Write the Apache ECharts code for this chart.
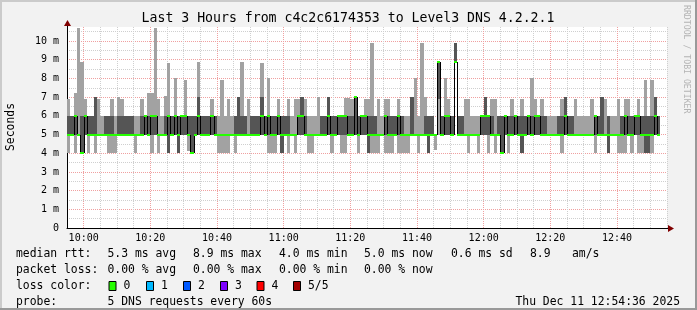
<!DOCTYPE html>
<html><head><meta charset="utf-8">
<script src="https://cdn.jsdelivr.net/npm/echarts@6/dist/echarts.min.js"></script>
<style>html,body{margin:0;padding:0;background:#f2f2f2}#c{width:697px;height:310px}</style>
</head><body><div id="c"></div>
<script>
// time axis in minutes since midnight; column i covers [firstMinute+i, firstMinute+i+1]
const firstMinute = 595;       // 09:55
const axisStart = 595, axisEnd = 775;
const xLabelMinutes = [600, 620, 640, 660, 680, 700, 720, 740, 760];
const yTickValues = [0,1,2,3,4,5,6,7,8,9,10];

// five DNS pings per minute, sorted: min, 2nd, median, 4th, max (ms)
const pingMin = [
4,5,4,5,4,5,4,5,4,5,
5,5,4,4,4,5,5,5,5,5,
4,5,5,5,5,4,5,4,5,5,
4,5,5,4,5,5,4.1,4,5,5,
5,5,5,5,5,4,4,4,4,5,
4,5,5,5,5,5,5,5,5,5,
4,4,4,5,4,5,4,5,4,5,
5,5,4,4,5,5,5,5,5,4,
5,5,4,4,5,5,5,4,5,5,
4,4,4,4,5,4,4,4,5,4,
4,4,4,5,5,4,5,5,4,5,
4.15,5,5,5,5,5,8.9,5,5,5,
4,5,5,4,5,5,4,5,4,5,
4,5,4,5,5,5,4,5,5,5,
5,5,5,5,5,5,5,5,4,5,
5,5,5,5,5,5,5,5,4,5,
5,5,4,5,5,4,4,4,5,4,
5,4,4,4,4,4,5,5];
const pingQ1 = [
5,5,5,5,4,5,5,5,5,5,
5,5,5,5,5,5,5,5,5,5,
5,5,5,5,5,5,5,5,5,5,
4,5,5,4,5,5,5,4,5,5,
5,5,5,5,5,5,5,5,5,5,
5,5,5,5,5,5,5,5,5,5,
5,5,5,5,4,5,5,5,5,5,
5,5,5,5,5,5,5,5,5,5,
5,5,5,5,5,5,5,5,5,5,
4,5,5,5,5,5,5,5,5,5,
5,5,5,5,5,5,5,5,4,5,
5,6.9,5,5,5,5,8.9,5,5,5,
5,5,5,5,5,5,5,5,5,5,
4,5,5,5,5,5,4,5,5,5,
5,5,5,5,5,5,5,5,5,5,
5,5,5,5,5,5,5,5,5,5,
5,5,4,5,5,5,5,5,5,5,
5,5,5,4,4,5,5,5];
const pingMed = [
5,5,6,5,4,6,5,5,5,5,
5,5,5,5,5,5,5,5,5,5,
5,5,5,6,5,6,6,5,5,5,
6,5,6,5,6,6,5,4,5,6,
5,5,5,6,5,5,5,5,5,5,
5,5,5,5,5,5,5,5,6,5,
6,5,5,6,5,5,5,5,5,6,
6,5,5,5,5,5,5,5,6,5,
5,6,6,6,5,5,7,5,6,6,
5,5,5,5,5,6,5,5,5,6,
5,5,5,5,5,5,5,5,5,5,
5,8.9,5,6,6,5,8.9,5,5,5,
5,5,5,5,6,6,6,5,5,5,
4,6,5,5,6,5,5,5,6,5,
6,6,5,5,5,5,5,5,5,6,
5,5,5,5,5,5,5,5,6,5,
5,5,5,5,5,5,5,6,5,5,
6,6,5,5,5,5,6,5];
const pingQ3 = [
6,6,6,5,6,6,6,6,7,5,
5,6,6,6,5,6,6,6,6,6,
5,5,6,6,6,6,6,5,5,6,
6,6,6,6,6,6,6,6,6,7,
6,6,6,6,6,5,5,5,5,5,
6,7,6,6,5,6,6,6,7,6,
6,6,6,6,6,6,6,5,5,6,
7,6,5,5,5,5,6,6,7,6,
6,6,6,6,6,6,7,6,6,6,
6,6,6,5,5,6,6,6,6,6,
6,5,5,7,5,5,5,6,6,6,
5,8.9,6,6,6,6,9.9,6,6,5,
5,5,5,5,6,7,6,6,5,6,
6,6,6,6,6,6,6,6,6,6,
6,6,6,6,5,5,5,6,6,7,
6,6,5,5,5,5,5,5,6,6,
7,5,6,5,5,5,6,6,6,6,
6,6,6,6,6,6,7,6];
const pingMax = [
6.9,6,7.2,10.7,8.9,6.9,6,6,7,6.9,
6,6,6,6.9,6,7,6.9,6,6,6,
6,6,6.9,6,7.2,7.2,10.7,6.9,6,7.05,
8.85,6,8,6,6,7.9,6,6,6,8.9,
6,6,6,6.9,6,6,7.9,6,6.9,6,
6,7,8.9,6,6.9,6,6,6,8.85,6,
8,6,6,6.9,6,6,6.9,6,6.9,6.9,
7,6.9,6,6,6,7,6,6,7,6,
6,6,6,6.95,6.95,6.9,7,6,6,6.9,
6.9,9.9,6,6.9,6,6.9,6.9,6,6,6.9,
6,6,6,7,8,6,9.9,7,6,6,
5,8.9,6,8,6.9,6,9.9,6,6,6.9,
6.9,6,6,6,6,7,6,6.9,6.9,6,
6,6,6,6.9,6,6,6.9,6,6,8,
6.9,6,6.9,6,6,6,6,6,6.9,7,
6,6,6.9,6,6,6,6,6.9,6,6,
7,6.9,6,6,6,6.9,6,6.9,6.9,6,
6,6.9,6,7.9,6,7.9,7,6];

const titleText = 'Last 3 Hours from c4c2c6174353 to Level3 DNS 4.2.2.1';
const rttRow = [['median rtt:',16],['5.3 ms avg',107.5],['8.9 ms max',193],['4.0 ms min',279],['5.0 ms now',364],['0.6 ms sd',451],['8.9',530],['am/s',572]];
const lossRow = [['packet loss:',16],['0.00 % avg',107.5],['0.00 % max',193],['0.00 % min',279],['0.00 % now',364]];
const lossColors = [['0','#26ff00'],['1','#00b8ff'],['2','#0059ff'],['3','#7e00ff'],['4','#ff0000'],['5/5','#a10000']];
const lossBoxX = [108.5,146,183,220,256.5,293];
const probeText = '5 DNS requests every 60s';
const dateText = 'Thu Dec 11 12:54:36 2025';

const MONO = "'DejaVu Sans Mono', monospace";
const LIGHT = '#a2a2a2', DARK = '#555555', MEDGREEN = '#26ff00';

const smokeData = pingMed.map((m, i) => [firstMinute + i, pingMin[i], pingQ1[i], m, pingQ3[i], pingMax[i]]);
const medianData = pingMed.map((m, i) => [firstMinute + i, m, i === 0 ? m : pingMed[i - 1]]);

function hhmm(v) {
  const h = Math.floor(v / 60), m = v % 60;
  return (h < 10 ? '0' : '') + h + ':' + (m < 10 ? '0' : '') + m;
}

const chart = echarts.init(document.getElementById('c'), null, {renderer: 'canvas'});

const gfx = [];
// frame shading
gfx.push({type:'rect', shape:{x:0,y:0,width:697,height:2}, style:{fill:'#cbcbcb'}, silent:true});
gfx.push({type:'rect', shape:{x:0,y:0,width:2,height:310}, style:{fill:'#cbcbcb'}, silent:true});
gfx.push({type:'rect', shape:{x:0,y:308,width:697,height:2}, style:{fill:'#999999'}, silent:true});
gfx.push({type:'rect', shape:{x:695,y:0,width:2,height:310}, style:{fill:'#999999'}, silent:true});
gfx.push({type:'text', x:348, y:19, style:{text:titleText, font:'13.2px ' + MONO, fill:'#000', align:'center', verticalAlign:'middle'}});
gfx.push({type:'text', x:11, y:127, rotation:Math.PI/2, style:{text:'Seconds', font:'11.4px ' + MONO, fill:'#000', align:'center', verticalAlign:'middle'}});
gfx.push({type:'text', x:686, y:5, rotation:-Math.PI/2, style:{text:'RRDTOOL / TOBI OETIKER', font:'8.2px ' + MONO, fill:'#b4b4b4', align:'left', verticalAlign:'middle'}});
const LF = '11.4px ' + MONO;
rttRow.forEach(([t, x]) => gfx.push({type:'text', x, y:254, style:{text:t, font:LF, fill:'#000', align:'left', verticalAlign:'middle'}}));
lossRow.forEach(([t, x]) => gfx.push({type:'text', x, y:270, style:{text:t, font:LF, fill:'#000', align:'left', verticalAlign:'middle'}}));
gfx.push({type:'text', x:16, y:286, style:{text:'loss color:', font:LF, fill:'#000', align:'left', verticalAlign:'middle'}});
lossColors.forEach(([t, c], k) => {
  gfx.push({type:'rect', shape:{x:lossBoxX[k] + 0.5, y:281.5, width:7, height:9}, style:{fill:c, stroke:'#000', lineWidth:1}});
  gfx.push({type:'text', x:lossBoxX[k] + 15, y:286, style:{text:t, font:LF, fill:'#000', align:'left', verticalAlign:'middle'}});
});
gfx.push({type:'text', x:16, y:302, style:{text:'probe:', font:LF, fill:'#000', align:'left', verticalAlign:'middle'}});
gfx.push({type:'text', x:107.5, y:302, style:{text:probeText, font:LF, fill:'#000', align:'left', verticalAlign:'middle'}});
gfx.push({type:'text', x:680, y:302, style:{text:dateText, font:LF, fill:'#000', align:'right', verticalAlign:'middle'}});

const MAJ = '#f0a0a0', MIN = '#cfcfcf';

chart.setOption({
  animation: false,
  backgroundColor: '#f2f2f2',
  grid: {left:67, top:27, width:600, height:201, show:true, backgroundColor:'#ffffff', borderWidth:0},
  xAxis: {
    type:'value', min:axisStart, max:axisEnd, interval:5,
    axisLine:{show:true, lineStyle:{color:'#000', width:1}},
    axisTick:{show:false},
    axisLabel:{show:true, margin:5, color:'#000', fontFamily:MONO, fontSize:10,
      formatter: v => xLabelMinutes.indexOf(v) >= 0 ? hhmm(v) : ''},
    splitLine:{show:true, lineStyle:{color:[MIN, MAJ, MIN, MIN], type:[1,1], width:1}}
  },
  yAxis: [{
    type:'value', min:0, max:10.75, interval:1,
    axisLine:{show:true, lineStyle:{color:'#000', width:1}},
    axisTick:{show:false},
    axisLabel:{show:true, margin:8, color:'#000', fontFamily:MONO, fontSize:10, showMaxLabel:false,
      formatter: v => yTickValues.indexOf(v) < 0 ? '' : (v === 0 ? '0' : v + ' m')},
    splitLine:{show:true, showMinLine:false, showMaxLine:false, lineStyle:{color:MAJ, type:[1,1], width:1}}
  }, {
    type:'value', min:0, max:10.75, interval:0.5, position:'left',
    axisLine:{show:false}, axisTick:{show:false}, axisLabel:{show:false},
    splitLine:{show:true, lineStyle:{color:['rgba(0,0,0,0)', MIN], type:[1,1], width:1}}
  }],
  series: [{
    type:'custom', name:'smoke', xAxisIndex:0, yAxisIndex:0, silent:true, clip:true,
    encode:{x:0, y:[1,2,3,4,5]},
    data: smokeData,
    renderItem: function (params, api) {
      const t = api.value(0);
      const xa = Math.round(api.coord([t, 0])[0]);
      const xb = Math.round(api.coord([t + 1, 0])[0]);
      const yv = k => Math.round(api.coord([t, api.value(k)])[1]);
      const yMin = yv(1), yQ1 = yv(2), yQ3 = yv(4), yMax = yv(5);
      const ch = [];
      if (yMin > yMax) ch.push({type:'rect', shape:{x:xa, y:yMax, width:xb - xa, height:yMin - yMax}, style:{fill:LIGHT}});
      if (yQ1 > yQ3) ch.push({type:'rect', shape:{x:xa, y:yQ3, width:xb - xa, height:yQ1 - yQ3}, style:{fill:DARK}});
      return {type:'group', children:ch};
    }
  }, {
    type:'custom', name:'median', xAxisIndex:0, yAxisIndex:0, silent:true, clip:true,
    encode:{x:0, y:[1,2]},
    data: medianData,
    renderItem: function (params, api) {
      const t = api.value(0);
      const xa = Math.round(api.coord([t, 0])[0]);
      const xb = Math.round(api.coord([t + 1, 0])[0]);
      const ym = Math.round(api.coord([t, api.value(1)])[1]);
      const yp = Math.round(api.coord([t, api.value(2)])[1]);
      const ch = [];
      if (ym !== yp) ch.push({type:'line', shape:{x1:xa + 0.5, y1:yp, x2:xa + 0.5, y2:ym}, style:{stroke:'#000', lineWidth:1}});
      ch.push({type:'rect', shape:{x:xa, y:ym - 1, width:xb - xa, height:2}, style:{fill:MEDGREEN}});
      return {type:'group', children:ch};
    }
  }],
  graphic: gfx
});

// axis arrows placed from the axis scale ends
const pEndX = chart.convertToPixel({xAxisIndex:0, yAxisIndex:0}, [axisEnd, 0]);
const pEndY = chart.convertToPixel({xAxisIndex:0, yAxisIndex:0}, [axisStart, 10.75]);
const ARROW = '#800000';
gfx.push({type:'line', shape:{x1:pEndX[0], y1:pEndX[1] + 0.5, x2:pEndX[0] + 3, y2:pEndX[1] + 0.5}, style:{stroke:'#000', lineWidth:1}});
gfx.push({type:'polygon', shape:{points:[[pEndX[0] + 1, pEndX[1] - 3], [pEndX[0] + 1, pEndX[1] + 4], [pEndX[0] + 7, pEndX[1] + 0.5]]}, style:{fill:ARROW}});
gfx.push({type:'line', shape:{x1:pEndY[0] + 0.5, y1:pEndY[1], x2:pEndY[0] + 0.5, y2:pEndY[1] - 2}, style:{stroke:'#000', lineWidth:1}});
gfx.push({type:'polygon', shape:{points:[[pEndY[0] - 3, pEndY[1] - 1], [pEndY[0] + 4, pEndY[1] - 1], [pEndY[0] + 0.5, pEndY[1] - 7]]}, style:{fill:ARROW}});
chart.setOption({graphic: gfx});
</script>
</body></html>
